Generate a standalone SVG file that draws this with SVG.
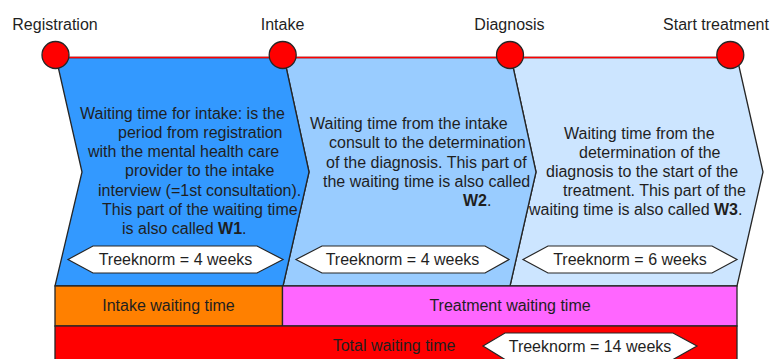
<svg xmlns="http://www.w3.org/2000/svg" width="772" height="359" viewBox="0 0 772 359">
  <style>
    .lbl { font-family: "Liberation Sans", Arial, sans-serif; font-size: 16px; fill: #1f1f1f; }
    .mid { text-anchor: middle; }
    .b { font-weight: bold; }
    .step { stroke: #262626; stroke-width: 1.3; stroke-linejoin: round; }
    .tag { fill: #ffffff; stroke: #262626; stroke-width: 1.2; }
    .bar { stroke: #262626; stroke-width: 1.3; }
    .milestone { fill: #ff0000; stroke: #262626; stroke-width: 1.3; }
  </style>

  <!-- phase chevrons -->
  <g id="phase-w3">
    <polygon class="step" fill="#cce5ff" points="511,57.5 737,57.5 763,172 737,286 510,286 536,172"/>
    <text class="lbl" x="564" y="139">Waiting time from the</text>
    <text class="lbl" x="579" y="158">determination of the</text>
    <text class="lbl" x="546" y="177">diagnosis to the start of the</text>
    <text class="lbl" x="563" y="196">treatment. This part of the</text>
    <text class="lbl" x="529" y="215">waiting time is also called <tspan class="b">W3</tspan>.</text>
  </g>
  <g id="phase-w2">
    <polygon class="step" fill="#99ccff" points="284,57.5 511,57.5 536,172 510,286 283,286 309,172"/>
    <text class="lbl" x="310" y="129">Waiting time from the intake</text>
    <text class="lbl" x="329" y="148">consult to the determination</text>
    <text class="lbl" x="326" y="167.5">of the diagnosis. This part of</text>
    <text class="lbl" x="323" y="186.5">the waiting time is also called</text>
    <text class="lbl" x="463" y="205.5"><tspan class="b">W2</tspan>.</text>
  </g>
  <g id="phase-w1">
    <polygon class="step" fill="#3399ff" points="56,57.5 284,57.5 309,172 283,286 55,286 82,172"/>
    <text class="lbl" x="80" y="118.5">Waiting time for intake: is the</text>
    <text class="lbl" x="118" y="138">period from registration</text>
    <text class="lbl" x="88" y="157">with the mental health care</text>
    <text class="lbl" x="125" y="176">provider to the intake</text>
    <text class="lbl" x="98" y="195.5">interview (=1st consultation).</text>
    <text class="lbl" x="102" y="214.5">This part of the waiting time</text>
    <text class="lbl" x="122" y="234">is also called <tspan class="b">W1</tspan>.</text>
  </g>

  <!-- norm tags inside the phases -->
  <g id="norm-w1">
    <polygon class="tag" points="68,259.5 93,246 257,246 283,259.5 257,273 93,273"/>
    <text class="lbl mid" x="175.5" y="265">Treeknorm = 4 weeks</text>
  </g>
  <g id="norm-w2">
    <polygon class="tag" points="296,259.5 322,246 485,246 509,259.5 485,273 322,273"/>
    <text class="lbl mid" x="402.5" y="265">Treeknorm = 4 weeks</text>
  </g>
  <g id="norm-w3">
    <polygon class="tag" points="523,259.5 548,246 712,246 737,259.5 712,273 548,273"/>
    <text class="lbl mid" x="630" y="265">Treeknorm = 6 weeks</text>
  </g>

  <!-- summary bars -->
  <g id="bar-intake">
    <rect class="bar" fill="#ff8000" x="55" y="286" width="227.5" height="40"/>
    <text class="lbl mid" x="168.5" y="311">Intake waiting time</text>
  </g>
  <g id="bar-treatment">
    <rect class="bar" fill="#ff66ff" x="282.5" y="286" width="454.5" height="40"/>
    <text class="lbl mid" x="510" y="311">Treatment waiting time</text>
  </g>
  <g id="bar-total">
    <rect class="bar" fill="#ff0000" x="55" y="326" width="682" height="42"/>
    <text class="lbl mid" x="394" y="351">Total waiting time</text>
  </g>
  <g id="norm-total">
    <polygon class="tag" points="483,346 505,333 673,333 697,346 673,359.5 505,359.5"/>
    <text class="lbl mid" x="590" y="351.5">Treeknorm = 14 weeks</text>
  </g>

  <!-- timeline connectors -->
  <g id="connectors">
    <line x1="55.5" y1="57.5" x2="730.3" y2="57.5" stroke="#ff0000" stroke-width="1.6"/>
  </g>

  <!-- milestones -->
  <g id="ms-registration">
    <circle class="milestone" cx="55.5" cy="55" r="13.5"/>
    <text class="lbl mid" x="55" y="29.5">Registration</text>
  </g>
  <g id="ms-intake">
    <circle class="milestone" cx="282.7" cy="55" r="13.5"/>
    <text class="lbl mid" x="282.5" y="29.5">Intake</text>
  </g>
  <g id="ms-diagnosis">
    <circle class="milestone" cx="510" cy="55" r="13.5"/>
    <text class="lbl mid" x="509.5" y="29.5">Diagnosis</text>
  </g>
  <g id="ms-start-treatment">
    <circle class="milestone" cx="730.3" cy="55" r="13.5"/>
    <text class="lbl mid" x="716" y="29.5">Start treatment</text>
  </g>
</svg>
